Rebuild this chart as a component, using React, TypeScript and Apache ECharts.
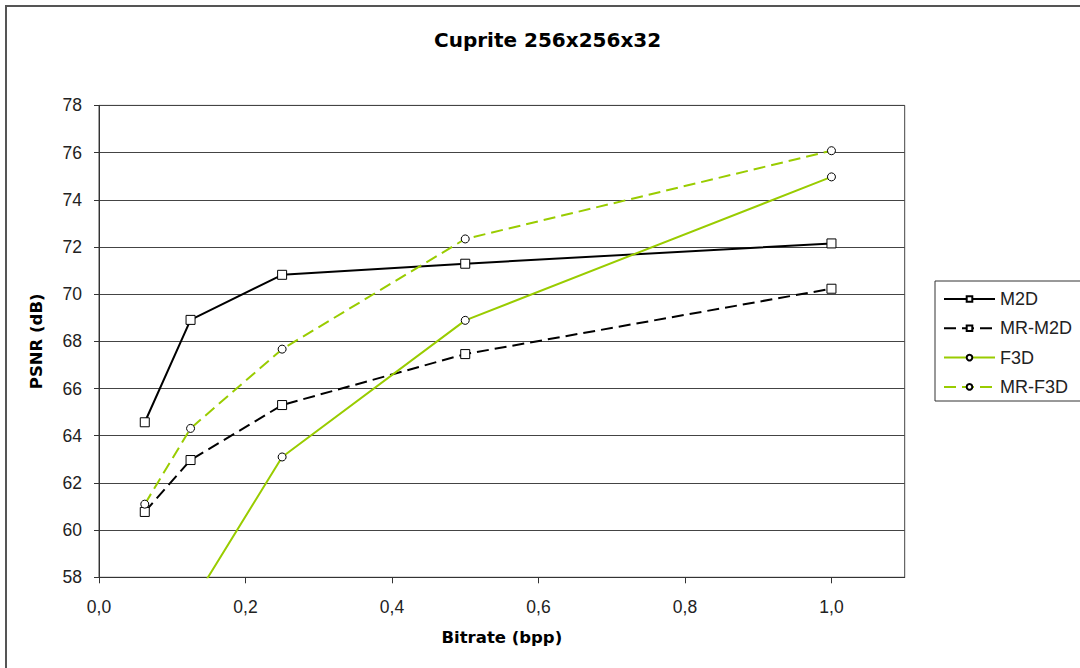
import React, { useEffect, useRef } from "react";
import * as echarts from "echarts";

const bitrates = [0.0625, 0.125, 0.25, 0.5, 1.0];
const m2d = [64.57, 68.91, 70.82, 71.29, 72.15];
const mrM2d = [60.77, 62.97, 65.3, 67.46, 70.23];
const f3d = [53.0, 56.8, 63.1, 68.89, 74.97];
const mrF3d = [61.1, 64.31, 67.67, 72.34, 76.08];
const seriesNames = ["M2D", "MR-M2D", "F3D", "MR-F3D"];
const xTicks = [0, 0.2, 0.4, 0.6, 0.8, 1.0];
const titleText = "Cuprite 256x256x32";
const xName = "Bitrate (bpp)";
const yName = "PSNR (dB)";

const pairs = (ys: number[]) => bitrates.map((x, i) => [x, ys[i]]);

const BLACK = "#000000";
const GREEN = "#99CC00";
const SANS = "'Liberation Sans', Arial, sans-serif";
const BOLD = "'DejaVu Sans', sans-serif";

export default function App() {
  const ref = useRef<HTMLDivElement>(null);
  useEffect(() => {
    if (!ref.current) return;
    const chart = echarts.init(ref.current, undefined, { renderer: "svg" });
    const mk = (name: string, ys: number[], color: string, dashed: boolean, symbol: string, size: number) => ({
      name,
      type: "line",
      data: pairs(ys),
      clip: true,
      symbol,
      symbolSize: size,
      showAllSymbol: true,
      lineStyle: { color, width: 2, type: dashed ? [12, 6] : "solid" },
      itemStyle: { color: "#ffffff", borderColor: "#000000", borderWidth: 1 },
      emphasis: { disabled: true },
    });
    chart.setOption({
      animation: false,
      backgroundColor: "#ffffff",
      title: {
        text: titleText,
        left: 434,
        top: 30,
        padding: 0,
        textStyle: { fontFamily: BOLD, fontWeight: "bold", fontSize: 20, color: "#000" },
      },
      graphic: [
        {
          type: "rect",
          shape: { x: 6, y: 6, width: 1200, height: 800 },
          style: { fill: "none", stroke: "#555", lineWidth: 2 },
          silent: true,
          z: -1,
        },
        {
          type: "rect",
          shape: { x: 935, y: 281, width: 300, height: 120 },
          style: { fill: "none", stroke: "#333", lineWidth: 1 },
          silent: true,
        },
      ],
      legend: {
        orient: "vertical",
        left: 943,
        top: 290,
        padding: 0,
        itemWidth: 51,
        itemHeight: 7,
        itemGap: 11.3,
        data: seriesNames,
        textStyle: { fontFamily: SANS, fontSize: 18, color: "#222", lineHeight: 18 },
      },
      grid: {
        left: 99,
        right: 175.3,
        top: 105.4,
        bottom: 90.7,
        show: true,
        borderColor: "#444",
        borderWidth: 1,
      },
      xAxis: {
        type: "value",
        min: 0,
        max: 1.1,
        interval: 0.2,
        name: xName,
        nameLocation: "middle",
        nameGap: 52,
        nameTextStyle: { fontFamily: BOLD, fontWeight: "bold", fontSize: 16.5, color: "#000" },
        axisLine: { show: true, lineStyle: { color: "#333", width: 1 } },
        axisTick: { show: true, length: 6, lineStyle: { color: "#333" }, customValues: xTicks },
        axisLabel: {
          customValues: xTicks,
          margin: 21,
          fontFamily: SANS,
          fontSize: 17.5,
          color: "#222",
          formatter: (v: number) => v.toFixed(1).replace(".", ","),
        },
        splitLine: { show: false },
      },
      yAxis: {
        type: "value",
        min: 58,
        max: 78,
        interval: 2,
        name: yName,
        nameLocation: "middle",
        nameGap: 54,
        nameTextStyle: { fontFamily: BOLD, fontWeight: "bold", fontSize: 16.5, color: "#000" },
        axisLine: { show: true, lineStyle: { color: "#333", width: 1 } },
        axisTick: { show: true, length: 5, lineStyle: { color: "#333" } },
        axisLabel: { margin: 17, fontFamily: SANS, fontSize: 17.5, color: "#222" },
        splitLine: { show: true, lineStyle: { color: "#444", width: 1 } },
      },
      series: [
        mk(seriesNames[0], m2d, BLACK, false, "rect", 9),
        mk(seriesNames[1], mrM2d, BLACK, true, "rect", 9),
        mk(seriesNames[2], f3d, GREEN, false, "circle", 8),
        mk(seriesNames[3], mrF3d, GREEN, true, "circle", 8),
      ],
    });
    return () => chart.dispose();
  }, []);
  return (
    <div
      ref={ref}
      style={{ position: "fixed", left: 0, top: 0, width: 1080, height: 668, background: "#fff" }}
    />
  );
}
